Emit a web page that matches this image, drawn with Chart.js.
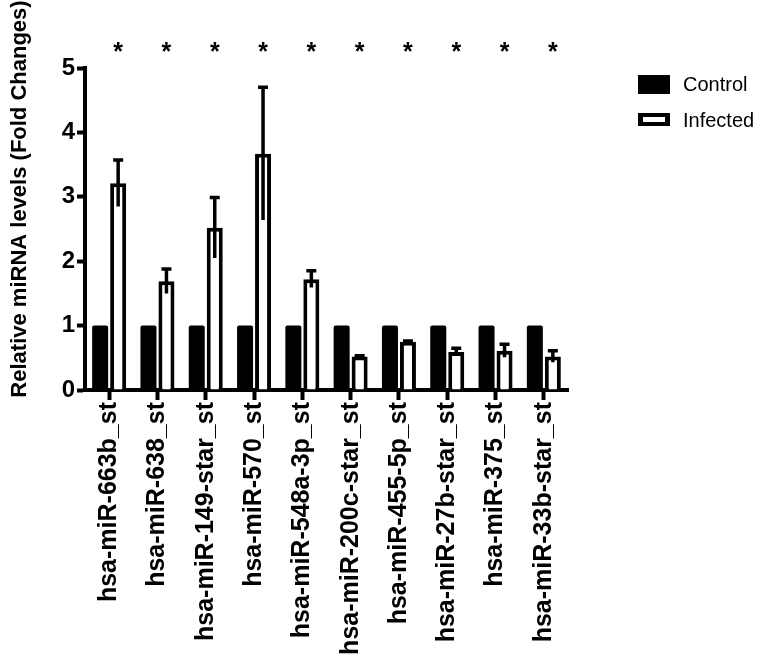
<!DOCTYPE html>
<html>
<head>
<meta charset="utf-8">
<script src="https://cdn.jsdelivr.net/npm/chart.js@4.4.0/dist/chart.umd.min.js"></script>
<style>
  html, body { margin: 0; padding: 0; background: #fff; }
  #wrap { width: 758px; height: 657px; position: relative; }
</style>
</head>
<body>
<div id="wrap"><canvas id="chart"></canvas></div>
<script>
// Données
const categories = ['hsa-miR-663b_st', 'hsa-miR-638_st', 'hsa-miR-149-star_st', 'hsa-miR-570_st',
  'hsa-miR-548a-3p_st', 'hsa-miR-200c-star_st', 'hsa-miR-455-5p_st', 'hsa-miR-27b-star_st',
  'hsa-miR-375_st', 'hsa-miR-33b-star_st'];
const controlValues = [1, 1, 1, 1, 1, 1, 1, 1, 1, 1];
const infectedValues = [3.21, 1.69, 2.52, 3.67, 1.72, 0.52, 0.75, 0.59, 0.61, 0.52];
const infectedErr = [0.36, 0.19, 0.47, 1.03, 0.13, 0.01, 0.01, 0.06, 0.1, 0.09];
const significance = ['*', '*', '*', '*', '*', '*', '*', '*', '*', '*'];
const yTicks = [0, 1, 2, 3, 4, 5];
const seriesNames = ['Control', 'Infected'];
const yTitle = 'Relative miRNA levels (Fold Changes)';

const FONT = "'Liberation Sans', Arial, Helvetica, sans-serif";

// Barres d'erreur + astérisques
const errorBars = {
  id: 'errorBars',
  afterDatasetsDraw(chart) {
    const ctx = chart.ctx;
    const y = chart.scales.y;
    const meta = chart.getDatasetMeta(1);
    ctx.save();
    ctx.strokeStyle = '#000';
    ctx.lineWidth = 3.5;
    meta.data.forEach((bar, i) => {
      const v = infectedValues[i], e = infectedErr[i];
      const top = y.getPixelForValue(v + e);
      const bot = y.getPixelForValue(v - e);
      ctx.beginPath();
      ctx.moveTo(bar.x, bot);
      ctx.lineTo(bar.x, top);
      ctx.moveTo(bar.x - 5, top);
      ctx.lineTo(bar.x + 5, top);
      ctx.stroke();
      // astérisque
      ctx.fillStyle = '#000';
      ctx.font = 'bold 25px ' + FONT;
      ctx.textAlign = 'center';
      ctx.textBaseline = 'alphabetic';
      ctx.fillText(significance[i], bar.x, 60);
    });
    ctx.restore();
  }
};

// Titre Y + légende
const extras = {
  id: 'extras',
  afterDraw(chart) {
    const ctx = chart.ctx;
    ctx.save();
    ctx.fillStyle = '#000';
    ctx.translate(26, 199);
    ctx.rotate(-Math.PI / 2);
    ctx.font = 'bold 22px ' + FONT;
    ctx.textAlign = 'center';
    ctx.textBaseline = 'alphabetic';
    ctx.fillText(yTitle, 0, 0);
    ctx.restore();

    ctx.save();
    ctx.fillStyle = '#000';
    ctx.fillRect(638, 75, 32, 19);
    ctx.fillRect(638, 113, 32, 13);
    ctx.fillStyle = '#fff';
    ctx.fillRect(643, 117, 22, 5);
    ctx.fillStyle = '#000';
    ctx.font = '20px ' + FONT;
    ctx.textAlign = 'left';
    ctx.textBaseline = 'middle';
    ctx.fillText(seriesNames[0], 683, 85);
    ctx.fillText(seriesNames[1], 683, 121);
    ctx.restore();
  }
};

const ctx = document.getElementById('chart').getContext('2d');
const chart = new Chart(ctx, {
  type: 'bar',
  data: {
    labels: categories,
    datasets: [
      { label: seriesNames[0], data: controlValues, backgroundColor: '#000', borderWidth: 0, borderRadius: 2 },
      { label: seriesNames[1], data: infectedValues, backgroundColor: '#fff', borderColor: '#000', borderWidth: 4 }
    ]
  },
  options: {
    responsive: true,
    maintainAspectRatio: false,
    animation: false,
    layout: { padding: { top: 68, right: 190, left: 0, bottom: 0 } },
    datasets: { bar: { categoryPercentage: 0.745, barPercentage: 0.89 } },
    plugins: { legend: { display: false }, tooltip: { enabled: false } },
    scales: {
      x: {
        afterFit: s => { s.height = 267; },
        border: { display: true, width: 4, color: '#000' },
        grid: { offset: false, drawOnChartArea: false, drawTicks: true, tickLength: 10, tickWidth: 4, tickColor: '#000' },
        ticks: { autoSkip: false, minRotation: 90, maxRotation: 90, padding: 2, color: '#000',
          font: { family: FONT, size: 25, weight: 'bold' } }
      },
      y: {
        min: 0, max: 5,
        afterFit: s => { s.width = 85; },
        afterBuildTicks: s => { s.ticks = yTicks.map(v => ({ value: v })); },
        border: { display: true, width: 4, color: '#000' },
        grid: { drawOnChartArea: false, drawTicks: true, tickLength: 8, tickWidth: 4, tickColor: '#000' },
        ticks: { padding: 2, color: '#000', font: { family: FONT, size: 24, weight: 'bold' } }
      }
    }
  },
  plugins: [errorBars, extras]
});
</script>
</body>
</html>
